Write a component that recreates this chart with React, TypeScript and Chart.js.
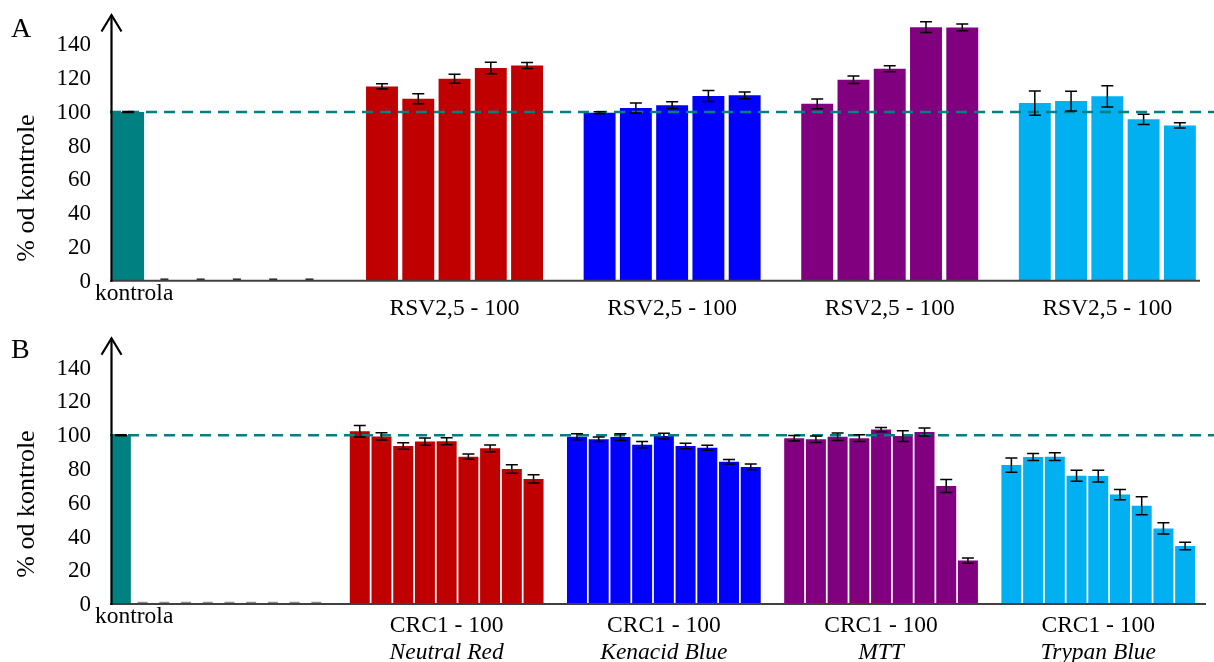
import React, { useEffect, useRef } from "react";
import { Chart, registerables } from "chart.js";
Chart.register(...registerables);

// ---------- data ----------
const Y_TICKS = [0, 20, 40, 60, 80, 100, 120, 140];
const Y_MAX = 157.4;
const Y_TITLE = "% od kontrole";
const CONTROL_LABEL = "kontrola";
const REFERENCE_LEVEL = 100;

// Panel A
const A_CONTROL = [100];
const A_CONTROL_ERR = [0.3];
const A_BLANKS = [0, 0, 0, 0, 0];
const A_RED = [115.1, 107.8, 119.6, 126.0, 127.5];
const A_RED_ERR = [1.6, 3.0, 2.7, 3.4, 1.8];
const A_BLUE = [99.5, 102.3, 104.0, 109.4, 109.8];
const A_BLUE_ERR = [0.6, 3.0, 2.0, 3.2, 2.0];
const A_PURPLE = [104.8, 119.0, 125.6, 150.2, 150.0];
const A_PURPLE_ERR = [2.9, 2.2, 1.8, 3.2, 2.0];
const A_CYAN = [105.2, 106.4, 109.2, 95.6, 92.0];
const A_CYAN_ERR = [7.2, 5.9, 6.3, 3.0, 1.6];
const A_GROUP_LABELS = ["RSV2,5 - 100", "RSV2,5 - 100", "RSV2,5 - 100", "RSV2,5 - 100"];

// Panel B
const B_CONTROL = [100];
const B_CONTROL_ERR = [0.3];
const B_BLANKS = [0, 0, 0, 0, 0, 0, 0, 0, 0];
const B_RED = [102.3, 99.3, 93.6, 96.2, 96.4, 87.3, 92.2, 80.0, 74.1];
const B_RED_ERR = [3.4, 2.1, 1.9, 2.1, 2.1, 1.6, 2.0, 2.5, 2.4];
const B_BLUE = [99.1, 97.6, 98.9, 94.4, 99.5, 93.6, 92.6, 84.3, 81.2];
const B_BLUE_ERR = [1.8, 1.4, 2.0, 1.8, 1.7, 1.6, 1.5, 1.3, 1.7];
const B_PURPLE = [98.2, 97.6, 99.1, 98.2, 103.3, 99.5, 101.9, 69.9, 25.7];
const B_PURPLE_ERR = [1.6, 1.9, 2.2, 2.0, 1.3, 3.2, 2.4, 3.8, 1.5];
const B_CYAN = [82.3, 87.1, 87.3, 76.0, 75.8, 64.8, 58.2, 44.8, 34.4];
const B_CYAN_ERR = [4.2, 2.1, 2.3, 3.3, 3.5, 3.0, 5.4, 3.3, 2.2];
const B_GROUP_LABELS = ["CRC1 - 100", "CRC1 - 100", "CRC1 - 100", "CRC1 - 100"];
const B_GROUP_SUBLABELS = ["Neutral Red", "Kenacid Blue", "MTT", "Trypan Blue"];

// ---------- styles ----------
const CONTROL_COLOR = "#008080";
const GROUP_COLORS = ["#C00000", "#0000FF", "#800080", "#00B0F0"];
const FONT = "'Liberation Serif', 'Times New Roman', serif";

type Panel = {
  letter: string;
  control: number[];
  controlErr: number[];
  blanks: number[];
  groups: number[][];
  errs: number[][];
  labels: string[];
  sublabels?: string[];
  top: number;
  height: number;
  padding: { left: number; right: number; top: number; bottom: number };
  barPct: number;
  controlLabelY: number;
  groupLabelY: number;
  subLabelY?: number;
  titleY: number;
  letterY: number;
  axisOvershoot: number;
  blankCapW: number;
  blankCapColor: string;
};

const PANELS: Panel[] = [
  {
    letter: "A",
    control: A_CONTROL,
    controlErr: A_CONTROL_ERR,
    blanks: A_BLANKS,
    groups: [A_RED, A_BLUE, A_PURPLE, A_CYAN],
    errs: [A_RED_ERR, A_BLUE_ERR, A_PURPLE_ERR, A_CYAN_ERR],
    labels: A_GROUP_LABELS,
    top: 0,
    height: 331,
    padding: { left: 110, right: 16, top: 15, bottom: 50.3 },
    barPct: 0.88,
    controlLabelY: 300,
    groupLabelY: 315,
    titleY: 188,
    letterY: 36.7,
    axisOvershoot: 2,
    blankCapW: 8,
    blankCapColor: "#222222",
  },
  {
    letter: "B",
    control: B_CONTROL,
    controlErr: B_CONTROL_ERR,
    blanks: B_BLANKS,
    groups: [B_RED, B_BLUE, B_PURPLE, B_CYAN],
    errs: [B_RED_ERR, B_BLUE_ERR, B_PURPLE_ERR, B_CYAN_ERR],
    labels: B_GROUP_LABELS,
    sublabels: B_GROUP_SUBLABELS,
    top: 331,
    height: 331,
    padding: { left: 110, right: 18, top: 7.3, bottom: 58 },
    barPct: 0.92,
    controlLabelY: 292.3,
    groupLabelY: 301,
    subLabelY: 327.7,
    titleY: 173,
    letterY: 27.3,
    axisOvershoot: 10,
    blankCapW: 10,
    blankCapColor: "#8c8c8c",
  },
];

function buildSlots(p: Panel) {
  const values: (number | null)[] = [];
  const errors: (number | null)[] = [];
  const colors: string[] = [];
  const kinds: string[] = [];
  const ranges: [number, number][] = [];
  p.control.forEach((v, i) => {
    values.push(v);
    errors.push(p.controlErr[i]);
    colors.push(CONTROL_COLOR);
    kinds.push("control");
  });
  p.blanks.forEach((v) => {
    values.push(v);
    errors.push(0);
    colors.push(CONTROL_COLOR);
    kinds.push("blank");
  });
  p.groups.forEach((g, gi) => {
    values.push(null);
    errors.push(null);
    colors.push("rgba(0,0,0,0)");
    kinds.push("gap");
    const start = values.length;
    g.forEach((v, i) => {
      values.push(v);
      errors.push(p.errs[gi][i]);
      colors.push(GROUP_COLORS[gi]);
      kinds.push("bar");
    });
    ranges.push([start, values.length - 1]);
  });
  return { values, errors, colors, kinds, ranges };
}

function makeOverlay(p: Panel, s: ReturnType<typeof buildSlots>) {
  return {
    id: "overlay" + p.letter,
    afterDatasetsDraw(chart: any) {
      const { ctx, chartArea: a, scales } = chart;
      const xs = scales.x;
      const ys = scales.y;
      const y0 = ys.getPixelForValue(0);
      ctx.save();

      // reference dashed line
      const yr = ys.getPixelForValue(REFERENCE_LEVEL);
      ctx.strokeStyle = CONTROL_COLOR;
      ctx.lineWidth = 2.5;
      ctx.setLineDash([11, 7]);
      ctx.beginPath();
      ctx.moveTo(a.left, yr);
      ctx.lineTo(chart.width, yr);
      ctx.stroke();
      ctx.setLineDash([]);

      // error bars
      s.values.forEach((v, i) => {
        const e = s.errors[i];
        if (v === null || e === null) return;
        const cx = xs.getPixelForValue(i);
        if (s.kinds[i] === "blank") {
          ctx.strokeStyle = p.blankCapColor;
          ctx.lineWidth = 1.5;
          ctx.beginPath();
          ctx.moveTo(cx - p.blankCapW / 2, y0 - 1.5);
          ctx.lineTo(cx + p.blankCapW / 2, y0 - 1.5);
          ctx.stroke();
          return;
        }
        const yt = ys.getPixelForValue(v + e);
        const yb = ys.getPixelForValue(v - e);
        ctx.strokeStyle = "#000";
        ctx.lineWidth = 1.5;
        ctx.beginPath();
        ctx.moveTo(cx, yt);
        ctx.lineTo(cx, yb);
        ctx.moveTo(cx - 6, yt);
        ctx.lineTo(cx + 6, yt);
        ctx.moveTo(cx - 6, yb);
        ctx.lineTo(cx + 6, yb);
        ctx.stroke();
      });

      // x axis line
      ctx.strokeStyle = "#404040";
      ctx.lineWidth = 2;
      ctx.beginPath();
      ctx.moveTo(a.left, y0);
      ctx.lineTo(a.right + p.axisOvershoot, y0);
      ctx.stroke();

      // y axis line with arrow
      const ax = a.left + 1.5;
      ctx.strokeStyle = "#000";
      ctx.lineWidth = 2.2;
      ctx.beginPath();
      ctx.moveTo(ax, y0 + 1);
      ctx.lineTo(ax, a.top);
      ctx.stroke();
      ctx.beginPath();
      ctx.moveTo(ax - 10, a.top + 16.5);
      ctx.lineTo(ax, a.top);
      ctx.lineTo(ax + 10, a.top + 16.5);
      ctx.stroke();

      // y tick labels
      ctx.fillStyle = "#000";
      ctx.font = `23px ${FONT}`;
      ctx.textAlign = "right";
      ctx.textBaseline = "middle";
      Y_TICKS.forEach((t) => {
        ctx.fillText(String(t), a.left - 19, ys.getPixelForValue(t) + 1);
      });

      // y title
      ctx.save();
      ctx.translate(34, p.titleY);
      ctx.rotate(-Math.PI / 2);
      ctx.font = `26px ${FONT}`;
      ctx.textAlign = "center";
      ctx.textBaseline = "alphabetic";
      ctx.fillText(Y_TITLE, 0, 0);
      ctx.restore();

      // panel letter
      ctx.font = `28px ${FONT}`;
      ctx.textAlign = "left";
      ctx.textBaseline = "alphabetic";
      ctx.fillText(p.letter, 11, p.letterY);

      // control label
      ctx.font = `23.5px ${FONT}`;
      ctx.textAlign = "left";
      ctx.fillText(CONTROL_LABEL, a.left - 15, p.controlLabelY);

      // group labels
      ctx.textAlign = "center";
      s.ranges.forEach(([st, en], gi) => {
        const cx = (xs.getPixelForValue(st) + xs.getPixelForValue(en)) / 2;
        ctx.font = `23.5px ${FONT}`;
        ctx.fillText(p.labels[gi], cx, p.groupLabelY);
        if (p.sublabels && p.subLabelY !== undefined) {
          ctx.font = `italic 23.5px ${FONT}`;
          ctx.fillText(p.sublabels[gi], cx, p.subLabelY);
        }
      });

      ctx.restore();
    },
  };
}

function PanelChart({ p }: { p: Panel }) {
  const ref = useRef<HTMLCanvasElement>(null);
  useEffect(() => {
    if (!ref.current) return;
    const s = buildSlots(p);
    const chart = new Chart(ref.current, {
      type: "bar",
      data: {
        labels: s.values.map((_, i) => String(i)),
        datasets: [
          {
            data: s.values as any,
            backgroundColor: s.colors,
            borderWidth: 0,
            barPercentage: p.barPct,
            categoryPercentage: 1,
          },
        ],
      },
      options: {
        responsive: false,
        animation: false,
        devicePixelRatio: 1,
        layout: { padding: p.padding },
        scales: {
          x: { display: false, offset: true },
          y: { display: false, min: 0, max: Y_MAX },
        },
        plugins: {
          legend: { display: false },
          tooltip: { enabled: false },
        },
      },
      plugins: [makeOverlay(p, s)],
    });
    return () => chart.destroy();
  }, [p]);
  return (
    <canvas
      ref={ref}
      width={1214}
      height={p.height}
      style={{ position: "absolute", left: 0, top: p.top, display: "block" }}
    />
  );
}

export default function App() {
  return (
    <div
      style={{
        position: "fixed",
        left: 0,
        top: 0,
        width: 1214,
        height: 662,
        background: "#fff",
        overflow: "hidden",
      }}
    >
      {PANELS.map((p) => (
        <PanelChart key={p.letter} p={p} />
      ))}
    </div>
  );
}
